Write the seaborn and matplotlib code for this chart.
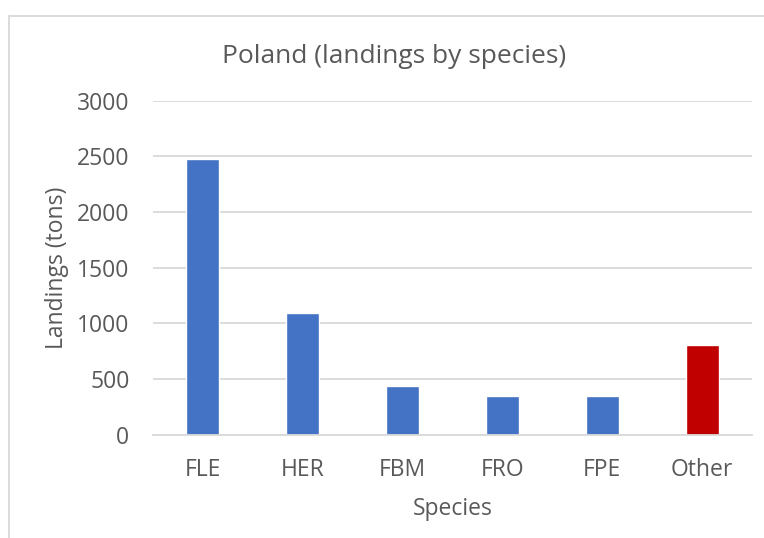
import matplotlib
matplotlib.use("Agg")
import matplotlib.pyplot as plt
from matplotlib.patches import Rectangle
import seaborn as sns
import pandas as pd

species = ["FLE", "HER", "FBM", "FRO", "FPE", "Other"]
landings = [2473, 1096, 437, 344, 344, 802]
bar_colors = ["#4472C4", "#4472C4", "#4472C4", "#4472C4", "#4472C4", "#C00000"]
y_ticks = [0, 500, 1000, 1500, 2000, 2500, 3000]

sns.set_theme(style="white")
plt.rcParams["font.family"] = ["Open Sans", "DejaVu Sans"]
text_col = "#595959"
grid_col = "#D9D9D9"

df = pd.DataFrame({"Species": species, "Landings": landings})

fig = plt.figure(figsize=(7.64, 5.38), dpi=100)
ax = fig.add_axes([0.2003, 0.192, 0.784, 0.621])

sns.barplot(data=df, x="Species", y="Landings", hue="Species",
            palette=bar_colors, width=0.33, legend=False, ax=ax,
            saturation=1)

ax.set_ylim(0, 3000)
ax.set_yticks(y_ticks)
ax.yaxis.grid(True, color=grid_col, linewidth=1.3)
ax.set_axisbelow(True)
for s in ["top", "right", "left"]:
    ax.spines[s].set_visible(False)
ax.spines["bottom"].set_color(grid_col)
ax.spines["bottom"].set_linewidth(1.3)
ax.tick_params(axis="both", length=0, labelsize=16.5, colors=text_col)
ax.tick_params(axis="y", pad=17)
ax.tick_params(axis="x", pad=17)

ax.set_xlabel("Species", fontsize=16.5, color=text_col, labelpad=10.5)
ax.set_ylabel("Landings (tons)", fontsize=16.5, color=text_col, labelpad=6)
fig.text(394 / 764, 1 - 44 / 538, "Poland (landings by species)",
         fontsize=19, color=text_col, ha="center", va="top")

fig.patches.append(Rectangle((9 / 764, -0.1), 1.2, 1 - 16 / 538 + 0.1,
                             transform=fig.transFigure, fill=False,
                             edgecolor=grid_col, linewidth=1.3))

fig.savefig("out.png", dpi=100)
